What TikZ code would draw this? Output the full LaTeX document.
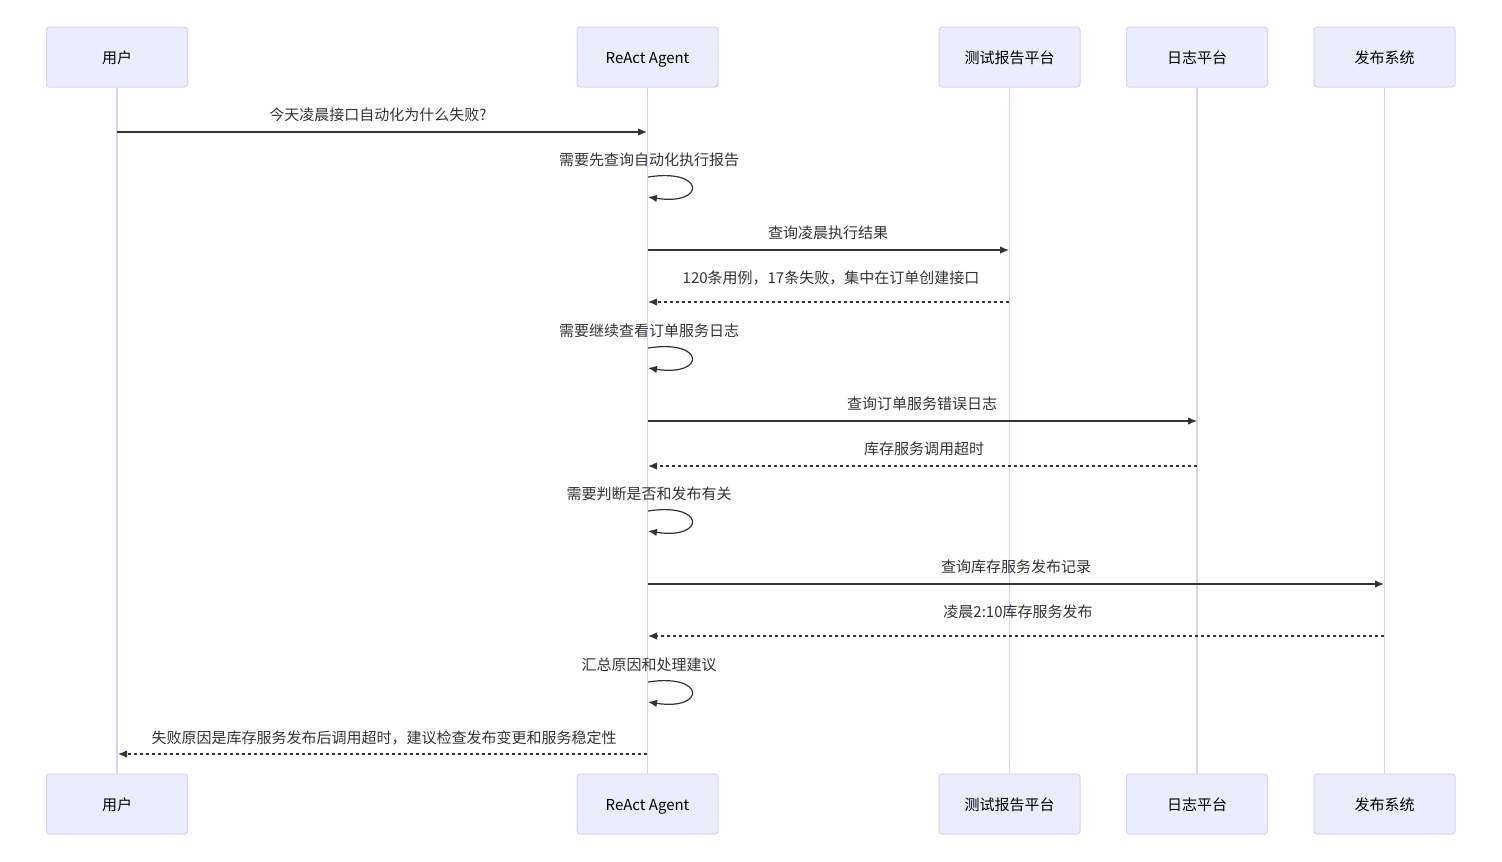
\documentclass[tikz,border=0pt]{standalone}
\usepackage{fontspec}
\setmainfont{Noto Sans CJK SC}
\usetikzlibrary{arrows.meta}
\definecolor{actfill}{HTML}{ECECFF}
\definecolor{actline}{HTML}{DAD0F3}
\definecolor{msg}{HTML}{333333}
\tikzset{
  actor/.style={draw=actline, fill=actfill, line width=1pt, rounded corners=3pt,
    minimum width=141pt, minimum height=60pt, inner sep=0pt,
    font=\fontsize{15}{18}\selectfont, text=black},
  actlabel/.style={inner sep=0pt, text height=11pt, text depth=4pt, yshift=-2.5pt,
    font=\fontsize{15}{18}\selectfont, text=black},
  life/.style={draw=actline, line width=1.5pt},
  msgline/.style={draw=msg, line width=1.2pt, -{Latex[length=9pt,width=7.5pt]}},
  reply/.style={msgline, dash pattern=on 3pt off 3pt},
  lbl/.style={font=\fontsize{15}{18}\selectfont, text=msg, inner sep=0pt,
    text height=11pt, text depth=4pt, yshift=-2.5pt},
}
\begin{document}
\begin{tikzpicture}[x=1pt,y=-1pt]
\useasboundingbox (0,0) rectangle (1502,862);
% lifelines first
\foreach \n/\x in {u/117,a/647.5,t/1009.5,l/1197,p/1384.5}{
  \coordinate (\n top) at (\x,87);
  \coordinate (\n bot) at (\x,774);
  \draw[life] (\n top) -- (\n bot);
}
% actors
\foreach \n/\x/\t in {u/117/用户,a/647.5/ReAct Agent,t/1009.5/测试报告平台,l/1197/日志平台,p/1384.5/发布系统}{
  \node[actor] (\n1) at (\x,57) {};
  \node[actlabel] (\n1t) at (\n1) {\t};
  \node[actor] (\n2) at (\x,804) {};
  \node[actlabel] (\n2t) at (\n2) {\t};
}

% message 1
\coordinate (m1s) at (117,132); \coordinate (m1e) at (647,132);
\draw[msgline] (m1s) -- (m1e);
\node[lbl] (t1l) at (378,114) {今天凌晨接口自动化为什么失败?};
% self 1
\node[lbl] (s1l) at (649,159) {需要先查询自动化执行报告};
\coordinate (s1a) at (648,177); \coordinate (s1b) at (648,197);
\draw[msgline] (s1a) .. controls (706,168) and (706,206) .. (s1b);
% message 3
\coordinate (m3s) at (648,250); \coordinate (m3e) at (1009,250);
\draw[msgline] (m3s) -- (m3e);
\node[lbl] (t3l) at (828,232) {查询凌晨执行结果};
% message 4
\coordinate (m4s) at (1009,302); \coordinate (m4e) at (648,302);
\draw[reply] (m4s) -- (m4e);
\node[lbl] (t4l) at (831,277) {120条用例，17条失败，集中在订单创建接口};
% self 2
\node[lbl] (s2l) at (649,330) {需要继续查看订单服务日志};
\coordinate (s2a) at (648,348); \coordinate (s2b) at (648,368);
\draw[msgline] (s2a) .. controls (706,339) and (706,377) .. (s2b);
% message 6
\coordinate (m6s) at (648,421); \coordinate (m6e) at (1197,421);
\draw[msgline] (m6s) -- (m6e);
\node[lbl] (t6l) at (922,403) {查询订单服务错误日志};
% message 7
\coordinate (m7s) at (1197,466); \coordinate (m7e) at (648,466);
\draw[reply] (m7s) -- (m7e);
\node[lbl] (t7l) at (924,448) {库存服务调用超时};
% self 3
\node[lbl] (s3l) at (649,493) {需要判断是否和发布有关};
\coordinate (s3a) at (648,511); \coordinate (s3b) at (648,531);
\draw[msgline] (s3a) .. controls (706,502) and (706,540) .. (s3b);
% message 9
\coordinate (m9s) at (648,584); \coordinate (m9e) at (1384,584);
\draw[msgline] (m9s) -- (m9e);
\node[lbl] (t9l) at (1016,566) {查询库存服务发布记录};
% message 10
\coordinate (m10s) at (1384,636); \coordinate (m10e) at (648,636);
\draw[reply] (m10s) -- (m10e);
\node[lbl] (t10l) at (1018,611) {凌晨2:10库存服务发布};
% self 4
\node[lbl] (s4l) at (649,664) {汇总原因和处理建议};
\coordinate (s4a) at (648,682); \coordinate (s4b) at (648,702);
\draw[msgline] (s4a) .. controls (706,673) and (706,711) .. (s4b);
% message 12
\coordinate (m12s) at (647,754); \coordinate (m12e) at (118,754);
\draw[reply] (m12s) -- (m12e);
\node[lbl] (t12l) at (384,737) {失败原因是库存服务发布后调用超时，建议检查发布变更和服务稳定性};
\end{tikzpicture}
\end{document}
